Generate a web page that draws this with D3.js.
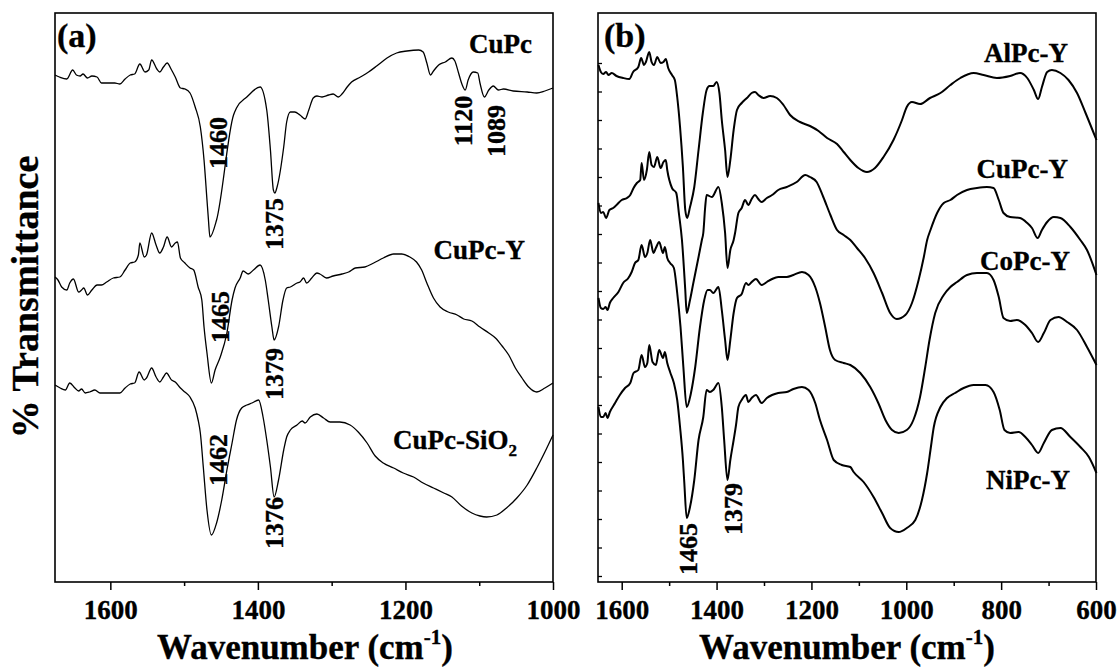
<!DOCTYPE html>
<html>
<head>
<meta charset="utf-8">
<script src="https://cdn.jsdelivr.net/npm/d3@7"></script>
<style>
  body { margin: 0; background: #fff; }
  text { font-family: "Liberation Serif", "Times New Roman", Times, serif; font-weight: bold; fill: #000; stroke: #000; stroke-width: 0.35px; }
</style>
</head>
<body>
<script>
// ---- data: [wavenumber (cm-1), transmittance (a.u., offset per curve)] ----
const cupcA = [[1675,507],[1669,505],[1659,503],[1651,512],[1646,507],[1641,506],[1637,508],[1631,504],[1625,506],[1618,505],[1612,499],[1603,499],[1594,499],[1587,498],[1580,503],[1573,507],[1567,508],[1560,518],[1553,510],[1548,512],[1544,522],[1537,513],[1533,510],[1528,515],[1523,519],[1517,512],[1512,505],[1505,494],[1499,493],[1492,489],[1485,475],[1478,455],[1473,422],[1469,382],[1467,362],[1465,345],[1456,362],[1433,467],[1429,474],[1415,485],[1397,495],[1388,472],[1383,432],[1379,392],[1377,389],[1374,395],[1365,435],[1361,460],[1356,470],[1350,470],[1343,467],[1336,463],[1331,472],[1325,484],[1320,486],[1313,485],[1304,487],[1298,488],[1291,485],[1286,488],[1279,495],[1273,500],[1261,505],[1250,510],[1239,516],[1225,524],[1212,529],[1198,531],[1182,532],[1176,530],[1171,519],[1166,507],[1162,511],[1155,517],[1146,520],[1137,524],[1133,521],[1128,509],[1123,497],[1119,492],[1115,502],[1108,510],[1102,509],[1099,499],[1093,485],[1087,492],[1081,496],[1074,492],[1067,493],[1054,491],[1035,490],[1022,489],[1011,491],[1000,494]];

const cupcYA = [[1675,305],[1671,302],[1666,295],[1659,292],[1655,299],[1650,303],[1643,290],[1639,292],[1636,294],[1631,287],[1625,292],[1618,297],[1612,297],[1605,300],[1596,304],[1587,305],[1580,312],[1573,319],[1567,320],[1562,327],[1560,339],[1554,325],[1551,327],[1544,349],[1538,337],[1533,329],[1528,335],[1523,345],[1517,335],[1512,339],[1509,340],[1505,324],[1499,319],[1492,314],[1487,312],[1481,295],[1476,282],[1473,255],[1469,229],[1463,199],[1458,212],[1451,225],[1442,249],[1435,282],[1431,294],[1424,304],[1420,311],[1413,308],[1406,312],[1397,317],[1390,302],[1386,282],[1381,255],[1378,242],[1372,255],[1366,282],[1361,294],[1356,295],[1347,299],[1343,300],[1338,304],[1334,299],[1327,304],[1320,309],[1316,308],[1307,304],[1298,306],[1286,308],[1277,310],[1268,314],[1255,315],[1243,319],[1230,324],[1216,328],[1205,328],[1194,325],[1185,320],[1178,312],[1171,299],[1162,284],[1153,275],[1142,270],[1130,267],[1121,263],[1110,261],[1099,255],[1087,249],[1078,244],[1069,236],[1060,227],[1051,214],[1042,204],[1033,195],[1022,190],[1011,194],[1000,199]];

const cupcSiA = [[1675,197],[1668,194],[1661,192],[1655,199],[1648,194],[1643,191],[1639,193],[1634,189],[1628,190],[1621,192],[1614,189],[1600,189],[1587,189],[1580,194],[1573,198],[1567,199],[1561,210],[1554,202],[1551,204],[1544,214],[1538,205],[1533,200],[1528,205],[1524,209],[1517,202],[1512,200],[1505,194],[1499,190],[1492,185],[1485,174],[1481,162],[1478,149],[1474,115],[1469,72],[1463,47],[1456,59],[1449,82],[1442,112],[1435,139],[1429,162],[1422,174],[1415,177],[1408,179],[1399,182],[1393,165],[1388,142],[1383,115],[1378,85],[1372,102],[1365,132],[1361,145],[1356,152],[1347,157],[1340,161],[1336,159],[1329,165],[1320,168],[1311,164],[1302,160],[1289,160],[1275,157],[1264,150],[1252,139],[1241,126],[1230,119],[1216,114],[1203,109],[1189,105],[1176,99],[1162,94],[1148,89],[1137,85],[1124,76],[1110,69],[1099,66],[1090,65],[1076,67],[1063,74],[1049,84],[1035,97],[1022,114],[1011,130],[1000,147]];

const alpcB = [[1649,517],[1644,510],[1639,508],[1633,510],[1628,507],[1621,509],[1611,506],[1597,504],[1584,503],[1576,510],[1565,515],[1559,524],[1553,517],[1549,520],[1542,530],[1537,520],[1532,517],[1525,525],[1518,519],[1512,520],[1507,523],[1502,514],[1494,507],[1488,502],[1483,485],[1477,455],[1471,415],[1466,372],[1462,364],[1456,375],[1447,395],[1438,432],[1429,469],[1421,492],[1415,496],[1407,496],[1400,500],[1394,489],[1389,462],[1382,432],[1377,405],[1371,422],[1364,452],[1357,472],[1347,479],[1336,484],[1326,489],[1319,490],[1312,487],[1301,484],[1287,486],[1273,484],[1259,477],[1245,467],[1224,460],[1203,456],[1185,451],[1167,444],[1146,438],[1132,430],[1118,422],[1101,414],[1083,410],[1066,414],[1048,425],[1027,442],[1009,462],[999,475],[988,480],[971,478],[950,484],[928,489],[907,497],[886,504],[858,509],[837,507],[809,504],[781,506],[760,509],[745,504],[731,492],[722,483],[714,495],[703,510],[693,512],[675,509],[658,502],[640,489],[622,469],[599,442]];

const cupcYB = [[1649,379],[1644,369],[1639,370],[1633,364],[1626,372],[1618,374],[1611,377],[1600,382],[1589,384],[1582,387],[1575,394],[1568,399],[1561,402],[1558,419],[1553,402],[1547,412],[1542,430],[1537,417],[1532,415],[1525,425],[1518,414],[1512,420],[1507,422],[1504,412],[1494,394],[1485,389],[1479,367],[1473,342],[1466,292],[1463,269],[1456,282],[1449,299],[1438,325],[1431,342],[1428,349],[1424,375],[1421,387],[1410,385],[1396,395],[1389,379],[1382,349],[1377,314],[1371,332],[1364,342],[1361,349],[1354,369],[1347,374],[1340,382],[1333,377],[1326,383],[1319,387],[1312,383],[1305,380],[1294,384],[1283,387],[1270,392],[1252,395],[1231,400],[1213,407],[1203,405],[1189,400],[1175,385],[1160,367],[1146,352],[1132,347],[1118,342],[1104,334],[1087,324],[1069,309],[1051,289],[1034,269],[1020,263],[1002,267],[988,279],[974,302],[963,325],[956,342],[949,352],[935,369],[921,379],[907,382],[893,387],[872,392],[851,394],[830,395],[816,394],[805,382],[795,369],[781,365],[760,364],[745,359],[735,354],[723,344],[714,352],[703,360],[689,365],[675,364],[654,355],[633,342],[619,332],[599,307]];

const copcB = [[1649,284],[1644,274],[1639,273],[1634,275],[1630,272],[1625,279],[1618,284],[1607,290],[1597,299],[1586,304],[1579,310],[1572,319],[1565,322],[1558,337],[1551,325],[1546,329],[1540,342],[1533,329],[1528,334],[1521,340],[1513,329],[1509,335],[1504,324],[1498,319],[1490,314],[1483,289],[1476,255],[1470,215],[1463,175],[1454,189],[1445,215],[1435,255],[1426,282],[1419,292],[1414,292],[1407,289],[1396,295],[1389,272],[1382,242],[1377,222],[1371,242],[1364,269],[1357,284],[1347,288],[1338,299],[1333,297],[1326,300],[1317,303],[1305,297],[1294,300],[1283,303],[1270,305],[1252,305],[1238,307],[1220,310],[1206,307],[1192,295],[1182,279],[1171,255],[1161,232],[1150,222],[1132,219],[1118,217],[1097,209],[1076,195],[1059,179],[1044,162],[1030,152],[1016,149],[999,152],[985,162],[971,185],[960,215],[951,242],[939,269],[921,287],[907,295],[893,300],[872,307],[851,309],[830,309],[816,302],[805,285],[795,264],[781,261],[767,262],[749,257],[735,249],[722,240],[710,249],[696,262],[679,265],[661,260],[640,252],[619,235],[599,217]];

const nipcB = [[1649,175],[1644,165],[1639,165],[1634,169],[1630,164],[1625,170],[1614,179],[1604,187],[1593,194],[1582,199],[1575,209],[1565,212],[1558,227],[1551,215],[1546,219],[1542,237],[1535,220],[1528,217],[1521,232],[1513,224],[1509,230],[1504,219],[1498,210],[1490,199],[1483,182],[1477,155],[1471,122],[1468,99],[1463,64],[1456,75],[1447,102],[1438,142],[1428,165],[1421,192],[1414,190],[1407,192],[1396,199],[1389,175],[1384,142],[1377,102],[1371,122],[1364,142],[1359,157],[1354,175],[1347,182],[1338,187],[1333,180],[1326,184],[1317,187],[1305,179],[1294,184],[1283,187],[1270,189],[1252,190],[1238,193],[1220,195],[1206,192],[1192,179],[1182,162],[1167,142],[1153,122],[1136,117],[1118,115],[1111,110],[1090,100],[1069,85],[1051,69],[1034,54],[1016,50],[999,54],[981,62],[967,82],[956,109],[949,132],[942,155],[928,175],[914,184],[897,189],[879,194],[858,197],[833,197],[816,190],[803,172],[793,152],[781,149],[763,150],[749,145],[735,137],[722,129],[710,139],[693,152],[675,154],[654,145],[633,135],[615,125],[599,109]];

const ticksA = [1600, 1400, 1200, 1000];
const minorA = [1500, 1300, 1100];
const ticksB = [1600, 1400, 1200, 1000, 800, 600];
const minorB = [1500, 1300, 1100, 900, 700];
const yTicksB = d3.range(6, 520, 28.5);

// ---- layout ----
const W = 1118, H = 667;
const plotTop = 13, plotBottom = 582;
const svg = d3.select('body').append('svg').attr('width', W).attr('height', H);

const xA = d3.scaleLinear().domain([1675, 1000]).range([55, 553]);
const xB = d3.scaleLinear().domain([1650, 600]).range([598, 1096]);
const y = d3.scaleLinear().domain([0, 569]).range([plotBottom, plotTop]);

function drawPanel(x, series, ticks, minor, width) {
    let g = svg.append('g');
    let line = d3.line()
        .x((d) => { return x(d[0]); })
        .y((d) => { return y(d[1]); })
        .curve(d3.curveMonotoneX);

    series.forEach((s) => {
        g.append('path').datum(s)
            .attr('d', line)
            .attr('fill', 'none')
            .attr('stroke', '#000')
            .attr('stroke-width', width)
            .attr('stroke-linejoin', 'round');
    });

    let ax = g.append('g').attr('transform', 'translate(0,' + plotBottom + ')')
        .call(d3.axisBottom(x).tickValues(ticks).tickSize(8).tickPadding(10).tickFormat(d3.format('d')));
    ax.select('.domain').remove();
    ax.selectAll('line').attr('stroke-width', 1.5);
    ax.selectAll('text').attr('font-size', 27);

    let mx = g.append('g').attr('transform', 'translate(0,' + plotBottom + ')')
        .call(d3.axisBottom(x).tickValues(minor).tickSize(4).tickFormat(''));
    mx.select('.domain').remove();
    mx.selectAll('line').attr('stroke-width', 1.5);

    let r = x.range();
    g.append('rect')
        .attr('x', r[0]).attr('y', plotTop)
        .attr('width', r[1] - r[0]).attr('height', plotBottom - plotTop)
        .attr('fill', 'none').attr('stroke', '#000').attr('stroke-width', 1.6);
    return g;
}

drawPanel(xA, [cupcA, cupcYA, cupcSiA], ticksA, minorA, 1.3);
let gb = drawPanel(xB, [alpcB, cupcYB, copcB, nipcB], ticksB, minorB, 2);

let ly = gb.append('g').attr('transform', 'translate(598,0)')
    .call(d3.axisLeft(y).tickValues(yTicksB).tickSize(-4).tickFormat(''));
ly.select('.domain').remove();
ly.selectAll('line').attr('stroke-width', 1.3);

// ---- text ----
function label(txt, x, yy, size, anchor) {
    return svg.append('text').attr('x', x).attr('y', yy)
        .attr('font-size', size).attr('text-anchor', anchor || 'start').text(txt);
}

label('(a)', 57, 47, 34);
label('(b)', 604, 47, 34);

label('CuPc', 532, 53, 27, 'end');
label('CuPc-Y', 525, 259, 27, 'end');
let si = svg.append('text').attr('x', 517).attr('y', 449)
    .attr('font-size', 27).attr('text-anchor', 'end');
si.append('tspan').text('CuPc-SiO');
si.append('tspan').attr('font-size', 17).attr('dy', 7).text('2');

label('AlPc-Y', 1068, 62, 27, 'end');
label('CuPc-Y', 1068, 178, 27, 'end');
label('CoPc-Y', 1070, 270, 27, 'end');
label('NiPc-Y', 1070, 489, 27, 'end');

const peaks = [
    ['1460', 227, 143], ['1375', 283, 224], ['1120', 472, 121], ['1089', 505, 131],
    ['1465', 229, 317], ['1379', 283, 374], ['1462', 227, 460], ['1376', 283, 523],
    ['1465', 697, 549], ['1379', 742, 509]
];
peaks.forEach((p) => {
    svg.append('text')
        .attr('transform', 'translate(' + p[1] + ',' + p[2] + ') rotate(-90)')
        .attr('text-anchor', 'middle')
        .attr('font-size', 26)
        .text(p[0]);
});

function xTitle(cx) {
    let t = svg.append('text').attr('x', cx).attr('y', 659)
        .attr('text-anchor', 'middle').attr('font-size', 35);
    t.append('tspan').text('Wavenumber (cm');
    t.append('tspan').attr('font-size', 21).attr('dy', -15).text('-1');
    t.append('tspan').attr('dy', 15).text(')');
}
xTitle(305);
xTitle(847);

svg.append('text')
    .attr('transform', 'translate(38,297) rotate(-90)')
    .attr('text-anchor', 'middle')
    .attr('font-size', 38)
    .text('% Transmittance');
</script>
</body>
</html>
